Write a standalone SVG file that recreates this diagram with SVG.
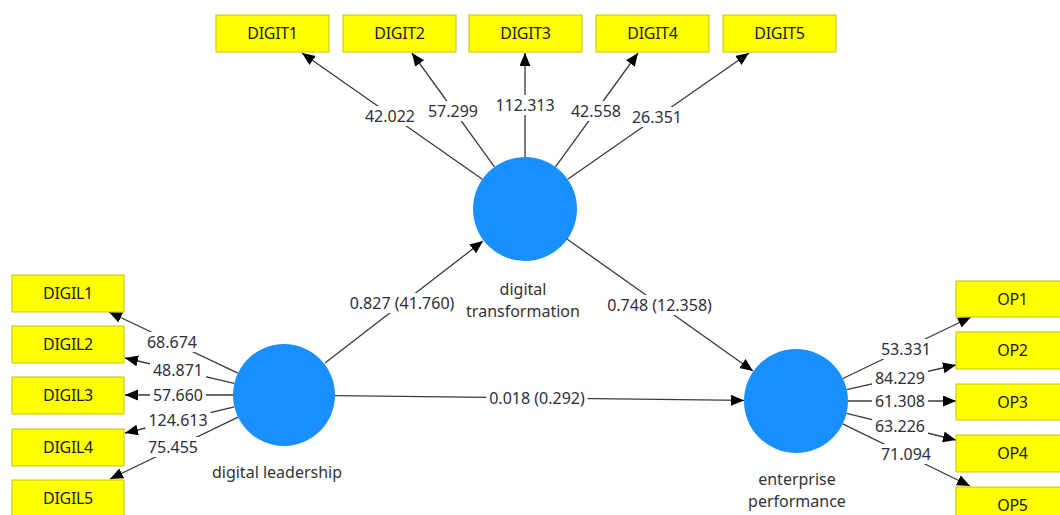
<svg xmlns="http://www.w3.org/2000/svg" width="1060" height="515" viewBox="0 0 1060 515">
<style>
.ind{fill:#ffff00;stroke:#c4c400;stroke-width:1}
.indt{font-family:"Noto Sans","Open Sans",sans-serif;font-size:16px;fill:#1a1a1a;text-anchor:middle;letter-spacing:-0.3px}
.lv{fill:#1a8fff}
.lvt{font-family:"Noto Sans","Open Sans",sans-serif;font-size:16px;fill:#333;text-anchor:middle}
.ln{stroke:#3a3a3a;stroke-width:1.3;fill:none;marker-end:url(#ah)}
.bg{fill:#fff}
.lt{font-family:"Noto Sans","Open Sans",sans-serif;font-size:16px;fill:#2e2e3a;text-anchor:middle}
</style>
<defs>
<marker id="ah" markerUnits="userSpaceOnUse" markerWidth="14" markerHeight="12" refX="13" refY="5.5" orient="auto">
<path d="M0,0 L13,5.5 L0,11 z" fill="#000"/>
</marker>
</defs>
<rect width="1060" height="515" fill="#fff"/>
<g id="connectors">
<line class="ln" x1="482.4" y1="179.2" x2="302" y2="53"/>
<line class="ln" x1="494.5" y1="166.9" x2="412" y2="53"/>
<line class="ln" x1="525" y1="157" x2="525" y2="53"/>
<line class="ln" x1="555.5" y1="166.9" x2="638" y2="53"/>
<line class="ln" x1="567.7" y1="179.3" x2="749" y2="53"/>
<line class="ln" x1="237.9" y1="373.1" x2="109" y2="312"/>
<line class="ln" x1="234.3" y1="383.4" x2="125" y2="358"/>
<line class="ln" x1="233" y1="395" x2="125" y2="395"/>
<line class="ln" x1="234.4" y1="406.9" x2="125" y2="433"/>
<line class="ln" x1="238.1" y1="417.2" x2="110" y2="479"/>
<line class="ln" x1="842.9" y1="378.5" x2="971" y2="317"/>
<line class="ln" x1="846.7" y1="389.6" x2="956" y2="365"/>
<line class="ln" x1="848" y1="401" x2="956" y2="401"/>
<line class="ln" x1="846.5" y1="413.3" x2="956" y2="440"/>
<line class="ln" x1="842.7" y1="423.8" x2="970" y2="486"/>
<line class="ln" x1="325" y1="363" x2="483" y2="241"/>
<line class="ln" x1="567" y1="239" x2="753" y2="371"/>
<line class="ln" x1="335" y1="395.6" x2="744" y2="400.4"/>
<g id="labels">
<rect class="bg" x="362" y="106" width="56" height="20"/><text class="lt" x="390" y="121.5">42.022</text>
<rect class="bg" x="425" y="101" width="56" height="20"/><text class="lt" x="453" y="116.5">57.299</text>
<rect class="bg" x="492.5" y="95" width="65" height="20"/><text class="lt" x="525" y="110.5">112.313</text>
<rect class="bg" x="568" y="101" width="56" height="20"/><text class="lt" x="596" y="116.5">42.558</text>
<rect class="bg" x="629" y="107" width="56" height="20"/><text class="lt" x="657" y="122.5">26.351</text>
<rect class="bg" x="144" y="332" width="56" height="20"/><text class="lt" x="172" y="347.5">68.674</text>
<rect class="bg" x="150" y="360" width="56" height="20"/><text class="lt" x="178" y="375.5">48.871</text>
<rect class="bg" x="150" y="385" width="56" height="20"/><text class="lt" x="178" y="400.5">57.660</text>
<rect class="bg" x="145.5" y="410" width="65" height="20"/><text class="lt" x="178" y="425.5">124.613</text>
<rect class="bg" x="145" y="437" width="56" height="20"/><text class="lt" x="173" y="452.5">75.455</text>
<rect class="bg" x="878" y="339" width="56" height="20"/><text class="lt" x="906" y="354.5">53.331</text>
<rect class="bg" x="872" y="368" width="56" height="20"/><text class="lt" x="900" y="383.5">84.229</text>
<rect class="bg" x="872" y="391" width="56" height="20"/><text class="lt" x="900" y="406.5">61.308</text>
<rect class="bg" x="872" y="416" width="56" height="20"/><text class="lt" x="900" y="431.5">63.226</text>
<rect class="bg" x="878" y="444" width="56" height="20"/><text class="lt" x="906" y="459.5">71.094</text>
<rect class="bg" x="346.5" y="293" width="111" height="20"/><text class="lt" x="402" y="308.5">0.827 (41.760)</text>
<rect class="bg" x="604" y="295" width="111" height="20"/><text class="lt" x="659.5" y="310.5">0.748 (12.358)</text>
<rect class="bg" x="486.5" y="388" width="101" height="20"/><text class="lt" x="537" y="403.5">0.018 (0.292)</text>
</g>
</g>
<g id="digital-transformation">
<circle class="lv" cx="525" cy="209" r="52"/>
<text class="lvt" x="523" y="295">digital</text>
<text class="lvt" x="523" y="317">transformation</text>
</g>
<g id="digital-leadership">
<circle class="lv" cx="284" cy="395" r="51"/>
<text class="lvt" x="277" y="478">digital leadership</text>
</g>
<g id="enterprise-performance">
<circle class="lv" cx="796" cy="401" r="52"/>
<text class="lvt" x="797" y="485">enterprise</text>
<text class="lvt" x="797" y="507">performance</text>
</g>
<g id="DIGIT1"><rect class="ind" x="216" y="15" width="113" height="37"/><text class="indt" x="272.5" y="39">DIGIT1</text></g>
<g id="DIGIT2"><rect class="ind" x="343" y="15" width="113" height="37"/><text class="indt" x="399.5" y="39">DIGIT2</text></g>
<g id="DIGIT3"><rect class="ind" x="469" y="15" width="113" height="37"/><text class="indt" x="525.5" y="39">DIGIT3</text></g>
<g id="DIGIT4"><rect class="ind" x="596" y="15" width="113" height="37"/><text class="indt" x="652.5" y="39">DIGIT4</text></g>
<g id="DIGIT5"><rect class="ind" x="723" y="15" width="113" height="37"/><text class="indt" x="779.5" y="39">DIGIT5</text></g>
<g id="DIGIL1"><rect class="ind" x="12" y="275" width="112" height="37"/><text class="indt" x="68" y="299">DIGIL1</text></g>
<g id="DIGIL2"><rect class="ind" x="12" y="326" width="112" height="37"/><text class="indt" x="68" y="350">DIGIL2</text></g>
<g id="DIGIL3"><rect class="ind" x="12" y="377" width="112" height="37"/><text class="indt" x="68" y="401">DIGIL3</text></g>
<g id="DIGIL4"><rect class="ind" x="12" y="429" width="112" height="37"/><text class="indt" x="68" y="453">DIGIL4</text></g>
<g id="DIGIL5"><rect class="ind" x="12" y="480" width="112" height="37"/><text class="indt" x="68" y="504">DIGIL5</text></g>
<g id="OP1"><rect class="ind" x="956" y="281" width="113" height="36"/><text class="indt" x="1012.5" y="304.5">OP1</text></g>
<g id="OP2"><rect class="ind" x="956" y="332" width="113" height="37"/><text class="indt" x="1012.5" y="356">OP2</text></g>
<g id="OP3"><rect class="ind" x="956" y="384" width="113" height="36"/><text class="indt" x="1012.5" y="407.5">OP3</text></g>
<g id="OP4"><rect class="ind" x="956" y="435" width="113" height="37"/><text class="indt" x="1012.5" y="459">OP4</text></g>
<g id="OP5"><rect class="ind" x="956" y="487" width="113" height="37"/><text class="indt" x="1012.5" y="511">OP5</text></g>
</svg>
